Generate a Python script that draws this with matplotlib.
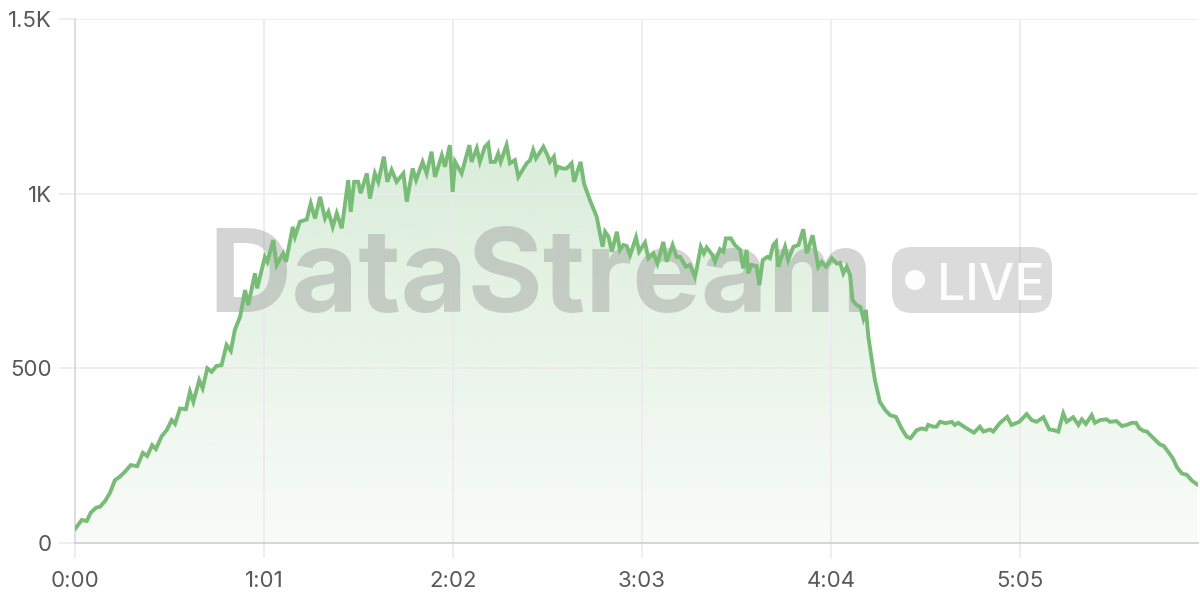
import numpy as np
import matplotlib
matplotlib.use("Agg")
import matplotlib.pyplot as plt
from matplotlib.patches import Polygon, FancyBboxPatch, Circle
from matplotlib.transforms import IdentityTransform

# seconds since stream start
t_sec = [
    0, 2.2, 3.8, 5.1, 6.8, 8.1, 9.7, 11.3, 12.9, 14.5, 16.1, 18.0, 20.1, 21.9, 23.3,
    24.9, 26.1, 28.0, 29.6, 31.2, 32.3, 33.9, 35.8, 37.1, 38.2, 40.1, 41.2, 42.7, 44.1,
    45.7, 47.3, 48.9, 50.3, 51.6,
    53.3, 54.9, 55.9, 58.1, 58.8, 61.3, 62.1, 64.0, 65.1, 67.2, 68.1, 70.3, 71.0, 72.6,
    74.8, 76.1, 77.5, 79.1, 80.7, 81.8, 83.2, 84.5, 86.1, 88.2, 89.0, 90.1, 91.4, 92.2,
    94.2, 95.2, 96.8, 97.9, 99.7, 100.8, 102.2, 103.8, 106.0, 107.1, 109.0, 110.1, 112.2,
    113.5, 115.1, 116.2, 118.4, 119.4, 121.0,
    121.9, 122.7, 124.8, 127.3, 128.0, 129.7, 130.7, 132.3, 133.4, 134.2, 135.6, 136.6,
    137.4, 139.3, 140.4, 142.0, 143.1, 145.8, 146.9, 147.9, 148.8, 151.2, 152.5, 153.3,
    154.6, 155.3, 156.0, 157.4, 158.7, 160.3, 161.1, 163.2, 164.3, 166.2, 168.4,
    170.3, 171.1, 172.2, 173.3, 174.9, 175.9, 177.0, 178.1, 179.2, 181.1, 182.1, 184.0,
    185.1, 186.7, 188.0, 189.9, 191.0, 192.9, 194.2, 195.3, 197.2, 198.5, 200.1, 200.7,
    202.0, 203.0, 203.9, 205.8, 206.6, 208.2, 209.3, 210.1, 211.7, 213.0, 214.7, 215.7,
    216.8, 217.3, 218.4, 220.0, 220.9, 222.0, 223.5, 224.3, 225.4, 226.3, 227.0, 229.2,
    230.2, 231.9, 233.5, 235.1, 236.2, 238.1, 239.9, 241.0, 242.4, 244.3, 245.9, 247.0,
    248.0, 249.1, 250.2, 251.0, 252.3, 253.6, 254.5, 255.3, 256.1, 257.2, 258.2, 259.8,
    261.5, 263.1, 265.0, 266.8, 268.5, 269.7, 271.7, 273.3, 274.7, 275.4, 277.1, 278.1,
    279.2, 281.1, 283.0, 284.0, 285.1, 287.8, 290.2, 292.1, 293.2, 295.4, 296.4, 298.6,
    300.9, 302.3, 303.7, 304.8, 307.2, 308.8, 310.4, 312.6, 314.5, 316.0, 317.4, 319.0,
    320.1, 322.2, 323.9, 325.0, 326.3, 328.2, 329.2, 330.9, 333.0, 334.1, 336.2, 337.9,
    339.5, 341.1, 342.5, 343.6, 344.9, 346.0, 347.1, 348.7, 350.2, 351.4, 352.9, 354.4,
    355.7, 357.3, 358.9, 360.6, 362.2,
]

# concurrent viewers
viewers = [
    40, 66, 63, 87, 101, 104, 120, 144, 180, 190, 204, 223, 220, 258, 249,
    280, 269, 306, 323, 352, 341, 385, 383, 433, 404, 466, 443, 500, 490,
    507, 509, 567, 550, 610,
    648, 724, 681, 772, 729, 819, 805, 867, 796, 829, 805, 905, 877, 920,
    926, 972, 929, 991, 929, 948, 905, 944, 901, 1039, 948, 1034, 1034, 1001,
    1058, 986, 1058, 1034, 1106, 1034, 1068, 1034, 1058, 977, 1072, 1039, 1091,
    1058, 1120, 1048, 1110, 1077, 1139,
    1005, 1091, 1058, 1139, 1091, 1130, 1091, 1134, 1144, 1091, 1091, 1115,
    1091, 1139, 1087, 1096, 1048, 1087, 1096, 1125, 1101, 1134, 1110, 1091,
    1106, 1063, 1077, 1072, 1072, 1087, 1034, 1091, 1029, 982, 934,
    848, 891, 877, 834, 891, 839, 853, 850, 824, 875, 834, 860,
    815, 829, 800, 862, 805, 853, 819, 819, 791, 796, 762, 786,
    848, 829, 846, 824, 805, 841, 834, 872, 872, 853, 839, 786,
    839, 772, 796, 793, 738, 810, 819, 815, 853, 862, 791, 848,
    810, 848, 853, 898, 829, 881, 791, 805, 791, 815, 800, 802,
    772, 791, 767, 695, 681, 675, 643, 667, 590, 524, 467, 404,
    381, 366, 361, 328, 304, 300, 323, 328, 325, 338, 333, 333,
    347, 343, 347, 338, 344, 328, 316, 333, 319, 325, 319, 344,
    361, 338, 343, 347, 369, 352, 347, 360, 325, 323, 319, 371,
    347, 360, 338, 354, 341, 366, 344, 352, 354, 347, 349, 335,
    338, 344, 344, 328, 321, 319, 309, 295, 282, 278, 261, 242,
    217, 199, 195, 178, 168,
]

x_ticks = [0, 61, 122, 183, 244, 305]
y_ticks = [0, 500, 1000, 1500]
y_labels = ["0", "500", "1K", "1.5K"]

LINE = "#78bc77"
GRID = "#ebebeb"
TEXT = "#585858"

plt.rcParams["font.family"] = ["Inter", "DejaVu Sans"]

fig = plt.figure(figsize=(12, 6), dpi=100)
ax = fig.add_axes([75 / 1200, 57 / 600, 1123 / 1200, 524 / 600])

t = np.array(t_sec)
v = np.array(viewers)

# gradient fill under the line, clipped to the area polygon
verts = [(t[0], 0)] + list(zip(t, v)) + [(t[-1], 0)]
area = Polygon(verts, closed=True, facecolor="none", edgecolor="none")
ax.add_patch(area)
alpha = np.linspace(0.05, 0.28, 256)[:, None]
grad = np.zeros((256, 1, 4))
grad[..., 0] = 121 / 255
grad[..., 1] = 189 / 255
grad[..., 2] = 120 / 255
grad[..., 3] = alpha
im = ax.imshow(grad, extent=[t[0], t[-1], 0, v.max()], origin="lower",
               aspect="auto", zorder=1, interpolation="bicubic")
im.set_clip_path(area)

ax.plot(t, v, color=LINE, lw=2.8, zorder=3, solid_joinstyle="miter")

ax.set_xlim(0, 362.5)
ax.set_ylim(0, 1500)
ax.set_xticks(x_ticks)
ax.set_xticklabels([f"{s // 60}:{s % 60:02d}" for s in x_ticks])
ax.set_yticks(y_ticks)
ax.set_yticklabels(y_labels)

ax.set_axisbelow("line")
ax.grid(True, color=GRID, lw=1.2)
ax.tick_params(axis="y", length=11.5, width=1.2, color=GRID, pad=5,
               labelsize=16, labelcolor=TEXT)
ax.tick_params(axis="x", length=11, width=1.2, color=GRID, pad=9,
               labelsize=16, labelcolor=TEXT)
for side in ["top", "right"]:
    ax.spines[side].set_visible(False)
ax.spines["left"].set_color("#d9d9d9")
ax.spines["left"].set_linewidth(1.2)
ax.spines["bottom"].set_color("#cfcfcf")
ax.spines["bottom"].set_linewidth(1.2)

# watermark, positioned in output pixels
ax.text(541, 600 - 312, "DataStream", transform=IdentityTransform(),
        ha="center", va="baseline", fontsize=83, fontweight="bold",
        color="#8a8a8a", alpha=0.36, zorder=2)
badge = FancyBboxPatch((892 + 20, 600 - 313 + 20), 160 - 40, 66 - 40,
                       boxstyle="round,pad=20", transform=IdentityTransform(),
                       facecolor="#8a8a8a", edgecolor="none", alpha=0.3,
                       zorder=2, clip_on=False)
ax.add_patch(badge)
ax.add_patch(Circle((915, 600 - 280), 10, transform=IdentityTransform(),
                    facecolor="white", edgecolor="none", alpha=0.95,
                    zorder=2.1, clip_on=False))
ax.text(937, 600 - 300, "LIVE", transform=IdentityTransform(),
        ha="left", va="baseline", fontsize=36, fontweight="medium",
        color="white", alpha=0.95, zorder=2.1)

fig.savefig("out.png", dpi=100, facecolor="white")
